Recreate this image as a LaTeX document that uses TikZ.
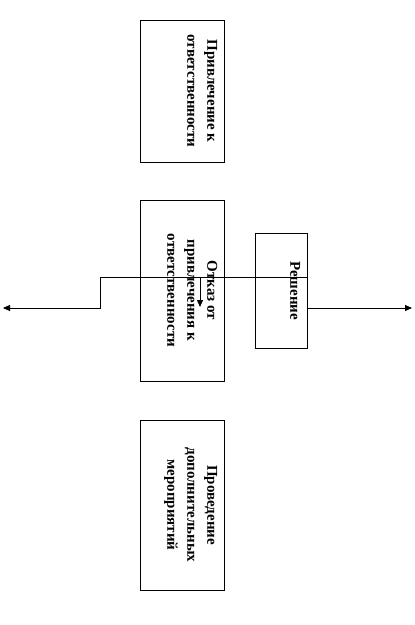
\documentclass[tikz,border=0pt]{standalone}
\usepackage{fontspec}
\setmainfont{Liberation Serif}
\usetikzlibrary{positioning,arrows.meta,calc}

\begin{document}
\begin{tikzpicture}[x=1pt,y=-1pt, box/.style={draw,line width=0.9pt,minimum width=84pt,inner sep=0pt},
  lbl/.style={rotate=-90,anchor=north,align=center,font=\fontsize{15}{20}\selectfont\bfseries,inner sep=0pt},
  >={Triangle[length=7pt,width=6pt]}]
  \useasboundingbox (0,0) rectangle (415,625);
  \node[box,minimum height=142pt] (prvl) at (182,91) {};
  \node[box,minimum height=181pt] (otk) at (182,290.5) {};
  \node[box,minimum height=170pt] (prov) at (182,505) {};
  \node[box,minimum width=52pt,minimum height=115pt] (resh) at (281,290.5) {};
  \node[lbl] (prvlt) at ([xshift=-7pt]prvl.east) {Привлечение к\\ответственности};
  \node[lbl] (otkt) at ([xshift=-7pt]otk.east) {Отказ от\\привлечения к\\ответственности};
  \node[lbl] (provt) at ([xshift=-7pt]prov.east) {Проведение\\дополнительных\\мероприятий};
  \node[lbl] (resht) at ([xshift=-7pt]resh.east) {Решение};
  \coordinate (jt) at (100,277);
  \coordinate (lft) at (3,308);
  \coordinate (rgt) at (412,308);
  \coordinate (dn) at (200,307);
  \draw[line width=0.9pt,->] (resh.east |- jt) -- (jt) |- (lft);
  \draw[line width=0.9pt,->] (resh.east |- rgt) -- (rgt);
  \draw[line width=0.9pt,->] (dn |- jt) -- (dn);
\end{tikzpicture}
\end{document}
